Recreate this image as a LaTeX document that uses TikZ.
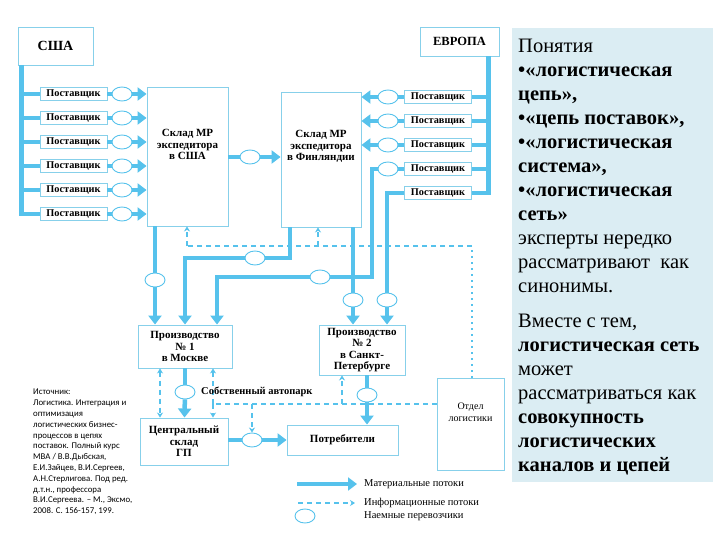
\documentclass[tikz,border=0pt]{standalone}
\usepackage{fontspec}
\setmainfont{Liberation Serif}
\newfontfamily\srcfont{Carlito}
\usetikzlibrary{arrows.meta,shapes.geometric}
\definecolor{flowblue}{RGB}{86,194,236}
\definecolor{boxblue}{RGB}{135,208,234}
\definecolor{panelblue}{RGB}{219,237,243}

\begin{document}
\begin{tikzpicture}[x=1pt, y=-1pt,
    box/.style={draw=boxblue, line width=0.9pt, fill=white, align=center,
        inner sep=0pt, font=\bfseries\fontsize{11}{11.5}\selectfont},
    supplier/.style={box, minimum width=67pt, minimum height=13pt,
        font=\bfseries\fontsize{10.3}{11}\selectfont},
    carrier/.style={ellipse, draw=flowblue, line width=0.9pt, fill=white,
        minimum width=20pt, minimum height=14pt, inner sep=0pt},
    flow/.style={draw=flowblue, line width=4.5pt},
    flowarrow/.style={flow, -{Triangle[length=9pt, width=13pt]}},
    info/.style={draw=flowblue, line width=1.3pt, dash pattern=on 5pt off 4pt},
    infoarrow/.style={info, -{Stealth[length=5pt, width=6pt]}},
    infodots/.style={draw=flowblue, line width=1.3pt, dash pattern=on 2pt off 4pt},
    paneltext/.style={anchor=north west, inner sep=0pt, align=left,
        font=\fontsize{20.5}{24}\selectfont}
]
    \fill[white] (0,0) rectangle (720,540);
    \useasboundingbox (0,0) rectangle (720,540);

    % text panel on the right
    \fill[panelblue] (512,28) rectangle (713,482);
    \node[paneltext] (notions) at (518,38.5)
        {Понятия\\
         \textbf{•«логистическая}\\
         \textbf{цепь»,}\\
         \textbf{•«цепь поставок»,}\\
         \textbf{•«логистическая}\\
         \textbf{система»,}\\
         \textbf{•«логистическая}\\
         \textbf{сеть»}\\
         эксперты нередко\\
         рассматривают\ \ как\\
         синонимы.};
    \node[paneltext] (network) at (518,313.5)
        {Вместе с тем,\\
         \textbf{логистическая сеть}\\
         может\\
         рассматриваться как\\
         \textbf{совокупность}\\
         \textbf{логистических}\\
         \textbf{каналов и цепей}};

    % source
    \node[anchor=north west, inner sep=0pt, align=left,
        font=\srcfont\fontsize{8.8}{10.8}\selectfont] (source) at (33,389)
        {Источник:\\
         Логистика. Интеграция и\\
         оптимизация\\
         логистических бизнес-\\
         процессов в цепях\\
         поставок. Полный курс\\
         МВА / В.В.Дыбская,\\
         Е.И.Зайцев, В.И.Сергеев,\\
         А.Н.Стерлигова. Под ред.\\
         д.т.н., профессора\\
         В.И.Сергеева. – М., Эксмо,\\
         2008. С. 156-157, 199.};

    % regions and warehouses
    \node[box, minimum width=75pt, minimum height=38pt,
        font=\bfseries\fontsize{14}{16}\selectfont] (usa) at (55.5,46) {США};
    \node[box, minimum width=79pt, minimum height=29pt,
        font=\bfseries\fontsize{12.5}{14}\selectfont] (europe) at (459.5,41.5) {ЕВРОПА};
    \node[box, minimum width=81pt, minimum height=139pt] (whUSA) at (187.5,156.5)
        {Склад МР\\экспедитора\\в США\\[12pt]};
    \node[box, minimum width=80pt, minimum height=135pt] (whFin) at (321,159.5)
        {Склад МР\\экспедитора\\в Финляндии\\[16pt]};
    \node[box, minimum width=94pt, minimum height=43pt] (prod1) at (185,346.5)
        {Производство\\№ 1\\в Москве};
    \node[box, minimum width=86pt, minimum height=50pt] (prod2) at (362,350)
        {Производство\\№ 2\\в Санкт-\\Петербурге};
    \node[box, minimum width=88pt, minimum height=47pt] (central) at (184,441.5)
        {Центральный\\склад\\ГП};
    \node[box, minimum width=111pt, minimum height=30pt] (consumers) at (342.5,440)
        {Потребители};
    \node[box, minimum width=67pt, minimum height=92pt,
        font=\fontsize{10}{11.5}\selectfont] (logist) at (470.5,424)
        {Отдел\\логистики\\[12pt]};

    % suppliers and carriers
    \foreach \i/\y in {1/94, 2/118, 3/142, 4/166, 5/190, 6/214} {
        \node[supplier] (supL\i) at (73.5,\y) {Поставщик};
        \node[carrier] (cL\i) at (122,\y) {};
    }
    \foreach \i/\y in {1/97, 2/121, 3/145, 4/169, 5/193}
        \node[supplier] (supR\i) at (438,\y) {Поставщик};
    \foreach \i/\y in {1/97, 2/121, 3/145, 4/169}
        \node[carrier] (cR\i) at (388,\y) {};
    \node[carrier] (cUF) at (250,157) {};
    \node[carrier] (cU) at (155,280) {};
    \node[carrier] (cF1) at (255,258) {};
    \node[carrier] (cF2) at (320,277) {};
    \node[carrier] (cP2a) at (353,300) {};
    \node[carrier] (cP2b) at (387,300) {};
    \node[carrier] (cM) at (185,392) {};
    \node[carrier] (cC) at (252,440) {};
    \node[carrier] (cP) at (367,395) {};

    \coordinate (busL) at ([xshift=4pt]usa.south west);
    \coordinate (busR) at ([xshift=-11pt]europe.south east);
    \coordinate (k1) at (290,258);
    \coordinate (k4) at (372,277);

    % material flows
    \draw[flow] (busL) |- (supL6.west);
    \foreach \i in {1,...,5}
        \draw[flow] (supL\i.west -| busL) -- (supL\i.west);
    \foreach \i in {1,...,6} {
        \draw[flow] (supL\i) -- (cL\i);
        \draw[flowarrow] (cL\i) -- (cL\i -| whUSA.west);
    }
    \draw[flow] (busR) |- (supR5.east);
    \foreach \i in {1,...,4} {
        \draw[flow] (supR\i.east -| busR) -- (supR\i.east);
        \draw[flow] (supR\i) -- (cR\i);
    }
    \foreach \i in {1,2,3}
        \draw[flowarrow] (cR\i) -- (cR\i -| whFin.east);
    \draw[flow] (whUSA.east |- cUF) -- (cUF);
    \draw[flowarrow] (cUF) -- (cUF -| whFin.west);

    \draw[flow] (cU |- whUSA.south) -- (cU);
    \draw[flowarrow] (cU) -- (cU |- prod1.north);
    \draw[flow] (k1 |- whFin.south) -- (k1) -- (cF1);
    \draw[flowarrow] (cF1) -| (prod1.north);
    \draw[flow] (cR4) -| (k4) -- (cF2);
    \draw[flowarrow] (cF2) -| ([xshift=32pt]prod1.north);
    \draw[flow] (cP2a |- whFin.south) -- (cP2a);
    \draw[flowarrow] (cP2a) -- (cP2a |- prod2.north);
    \draw[flow] (supR5) -| (cP2b);
    \draw[flowarrow] (cP2b) -- (cP2b |- prod2.north);

    \draw[flow] (prod1) -- (cM);
    \draw[flowarrow] (cM) -- (central);
    \draw[flow] (central.east |- cC) -- (cC);
    \draw[flowarrow] (cC) -- (consumers.west |- cC);
    \draw[flow] (cP |- prod2.south) -- (cP);
    \draw[flowarrow] (cP) -- (cP |- consumers.north);

    % information flows
    \coordinate (iL) at (472,246);
    \coordinate (iF) at (318,246);
    \coordinate (iU) at (187,246);
    \coordinate (jL) at (213,404);
    \coordinate (jP) at (342,404);
    \draw[infodots] (logist.north -| iL) -- (iL);
    \draw[info] (iL) -- (iU);
    \draw[infoarrow] (iF) -- (iF |- whFin.south);
    \draw[infoarrow] (iU) -- (iU |- whUSA.south);
    \draw[info] (logist.west |- jL) -- (jL);
    \draw[infoarrow] (jL) -- (jL |- prod1.south);
    \draw[infoarrow] (jL) -- (jL |- central.north);
    \draw[info, {Stealth[length=5pt, width=6pt]}-{Stealth[length=5pt, width=6pt]}]
        ([xshift=-25pt]prod1.south) -- ([xshift=-24pt]central.north);
    \draw[infoarrow] (cC |- jL) -- (cC);
    \draw[infoarrow] (jP) -- (jP |- prod2.south);

    \node[anchor=west, inner sep=0pt, font=\bfseries\fontsize{10.5}{12}\selectfont]
        (fleet) at (201,392) {Собственный автопарк};

    % legend
    \coordinate (legA1) at (297,484);
    \coordinate (legA2) at (357,484);
    \coordinate (legB1) at (298,503);
    \coordinate (legB2) at (355,503);
    \draw[flowarrow] (legA1) -- (legA2);
    \draw[infoarrow] (legB1) -- (legB2);
    \node[carrier] (legC) at (305,516) {};
    \node[anchor=west, inner sep=0pt, font=\fontsize{10.5}{12}\selectfont]
        (legTextA) at (364,484) {Материальные потоки};
    \node[anchor=west, inner sep=0pt, font=\fontsize{10.5}{12}\selectfont]
        (legTextB) at (364,503) {Информационные потоки};
    \node[anchor=west, inner sep=0pt, font=\fontsize{10.5}{12}\selectfont]
        (legTextC) at (364,516) {Наемные перевозчики};
\end{tikzpicture}
\end{document}
